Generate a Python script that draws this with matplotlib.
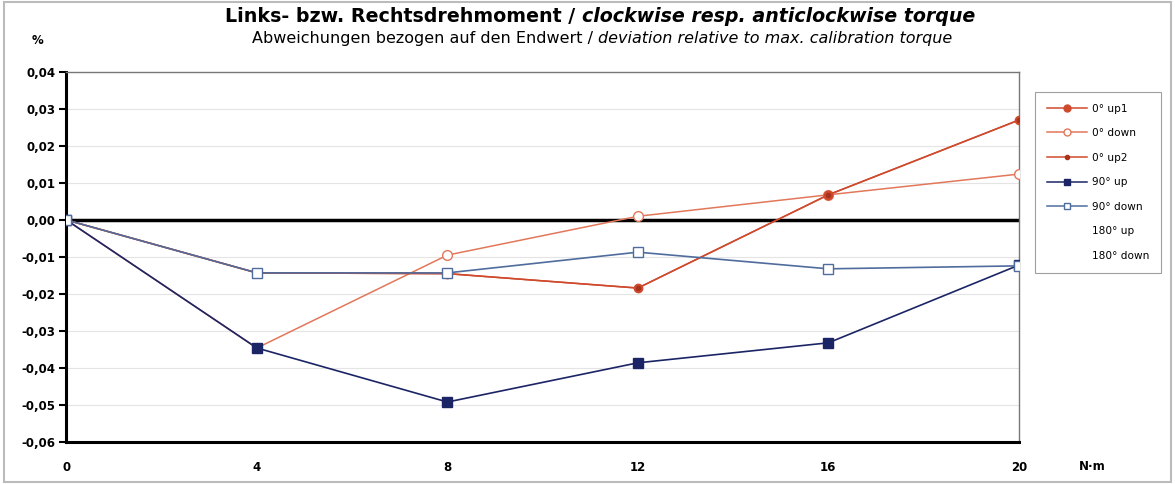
"""
Torque deviation chart: clockwise / anticlockwise torque,
deviation relative to max. calibration torque.
"""
import matplotlib
matplotlib.use("Agg")
import matplotlib.pyplot as plt
from matplotlib.lines import Line2D
from matplotlib.ticker import FuncFormatter

plt.rcParams["font.family"] = ["DejaVu Sans"]

torque = [0, 4, 8, 12, 16, 20]
up1_0 = [0.0, -0.0143, -0.0145, -0.0184, 0.0068, 0.0270]
down_0 = [0.0, -0.0346, -0.0095, 0.0010, 0.0068, 0.0124]
up2_0 = [0.0, -0.0143, -0.0145, -0.0184, 0.0068, 0.0270]
up_90 = [0.0, -0.0346, -0.0492, -0.0386, -0.0332, -0.0122]
down_90 = [0.0, -0.0143, -0.0143, -0.0087, -0.0132, -0.0124]
yticks = [0.04, 0.03, 0.02, 0.01, 0.0, -0.01, -0.02, -0.03, -0.04, -0.05, -0.06]

RED = "#cf4a2c"
RED_LIGHT = "#e2775a"
NAVY = "#1b2566"
BLUE = "#4f6c9c"

fig = plt.figure(figsize=(11.75, 4.84), dpi=100)
ax = fig.add_axes([0.0565, 0.0868, 0.8106, 0.7645])

ax.plot(torque, down_0, color=RED_LIGHT, lw=1.1, marker="o", ms=7,
        mfc="white", mec=RED_LIGHT, mew=1.0, zorder=3)
ax.plot(torque, up1_0, color=RED, lw=1.1, marker="o", ms=6,
        mfc=RED, mec=RED, zorder=4)
ax.plot(torque, up2_0, color=RED, lw=1.1, marker="o", ms=3,
        mfc="#a8321c", mec="#a8321c", zorder=4)
ax.plot(torque, up_90, color=NAVY, lw=1.2, marker="s", ms=7,
        mfc=NAVY, mec=NAVY, zorder=5)
ax.plot(torque, down_90, color=BLUE, lw=1.2, marker="s", ms=7.5,
        mfc="white", mec=BLUE, mew=1.0, zorder=5)

ax.axhline(0, color="black", lw=2.5, zorder=2)
ax.set_xlim(0, 20)
ax.set_ylim(-0.06, 0.04)
ax.set_yticks(yticks)
ax.set_xticks(torque)
ax.yaxis.set_major_formatter(FuncFormatter(lambda v, p: f"{v:.2f}".replace(".", ",").replace("-0,00", "0,00")))
ax.grid(axis="y", color="#e4e4e4", lw=0.8)
ax.set_axisbelow(True)
ax.tick_params(axis="y", direction="out", length=5, width=1.5, labelsize=8.5, pad=3)
ax.tick_params(axis="x", length=0, labelsize=8.5, pad=14)
for lab in ax.get_xticklabels() + ax.get_yticklabels():
    lab.set_fontweight("bold")

ax.spines["left"].set_linewidth(2.2)
ax.spines["bottom"].set_linewidth(2.2)
ax.spines["top"].set_color("#777777")
ax.spines["right"].set_color("#777777")
ax.spines["top"].set_linewidth(1.0)
ax.spines["right"].set_linewidth(1.0)

fig.text(38 / 1175, 1 - 40 / 484, "%", ha="center", va="center",
         fontsize=8.5, fontweight="bold")
fig.text(1092 / 1175, 1 - 466 / 484, "N·m", ha="center", va="center",
         fontsize=8.5, fontweight="bold")

# title with mixed upright / italic parts, centred as one line
fig.canvas.draw()
renderer = fig.canvas.get_renderer()


def mixed_line(y, parts, size, cx):
    texts = [fig.text(0, y, s, fontsize=size, va="center", ha="left", **kw)
             for s, kw in parts]
    widths = [t.get_window_extent(renderer).width for t in texts]
    x = cx * fig.bbox.width - sum(widths) / 2
    for t, w in zip(texts, widths):
        t.set_x(x / fig.bbox.width)
        x += w


mixed_line(1 - 17 / 484,
           [("Links- bzw. Rechtsdrehmoment / ", {"fontweight": "bold"}),
            ("clockwise resp. anticlockwise torque",
             {"fontweight": "bold", "style": "italic"})],
           13.7, 600 / 1175)
mixed_line(1 - 39 / 484,
           [("Abweichungen bezogen auf den Endwert / ", {}),
            ("deviation relative to max. calibration torque", {"style": "italic"})],
           11.5, 602 / 1175)

handles = [
    Line2D([], [], color=RED, lw=1.1, marker="o", ms=5, mfc=RED, mec=RED),
    Line2D([], [], color=RED_LIGHT, lw=1.1, marker="o", ms=5, mfc="white", mec=RED_LIGHT),
    Line2D([], [], color=RED, lw=1.1, marker="o", ms=3, mfc="#a8321c", mec="#a8321c"),
    Line2D([], [], color=NAVY, lw=1.1, marker="s", ms=5, mfc=NAVY, mec=NAVY),
    Line2D([], [], color=BLUE, lw=1.1, marker="s", ms=5, mfc="white", mec=BLUE),
    Line2D([], [], color="none"),
    Line2D([], [], color="none"),
]
labels = ["0° up1", "0° down", "0° up2", "90° up", "90° down", "180° up", "180° down"]
leg = fig.legend(handles, labels, loc="upper left",
                 bbox_to_anchor=(1035 / 1175, 1 - 92 / 484),
                 fontsize=7.6, frameon=True, fancybox=False, edgecolor="#888888",
                 handlelength=3.8, labelspacing=1.38, borderpad=1.1,
                 handletextpad=0.5, borderaxespad=0)
leg.get_frame().set_linewidth(0.8)

fig.patches.append(plt.Rectangle((0.003, 0.005), 0.994, 0.99, transform=fig.transFigure,
                                 fill=False, edgecolor="#bbbbbb", lw=1.5))

fig.savefig("out.png", dpi=100)
